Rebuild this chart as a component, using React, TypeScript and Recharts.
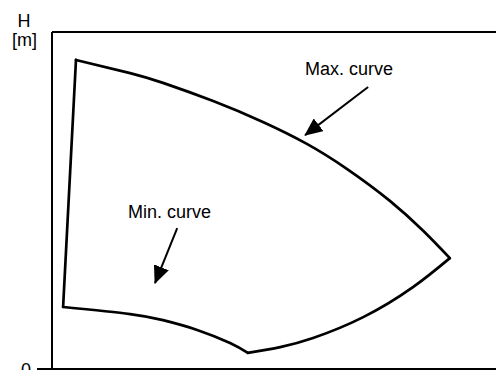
import { LineChart, Line, XAxis, YAxis } from 'recharts';

// outline of the operating field, in % of the axis range
const maxCurve = [
  { x: 5.4, y: 91.7 },
  { x: 17.6, y: 87.8 },
  { x: 25.0, y: 84.9 },
  { x: 36.3, y: 79.5 },
  { x: 47.5, y: 73.3 },
  { x: 57.4, y: 66.8 },
  { x: 66.4, y: 59.4 },
  { x: 76.1, y: 49.9 },
  { x: 83.6, y: 41.0 },
  { x: 89.6, y: 32.9 },
];

// right tip down to the lowest point
const minCurveRight = [
  { x: 89.6, y: 32.9 },
  { x: 81.3, y: 24.3 },
  { x: 70.1, y: 15.4 },
  { x: 58.8, y: 9.2 },
  { x: 51.4, y: 6.5 },
  { x: 44.1, y: 4.8 },
];

// lowest point back to the left corner
const minCurveLeft = [
  { x: 44.1, y: 4.8 },
  { x: 40.1, y: 7.7 },
  { x: 32.7, y: 11.6 },
  { x: 25.0, y: 14.5 },
  { x: 17.6, y: 16.3 },
  { x: 2.5, y: 18.4 },
];

// closing edge on the left
const leftEdge = [
  { x: 2.5, y: 18.4 },
  { x: 5.4, y: 91.7 },
];

const maxArrow = [
  { x: 71.2, y: 83.7 },
  { x: 57.0, y: 69.4 },
];

const minArrow = [
  { x: 28.2, y: 41.8 },
  { x: 23.2, y: 25.5 },
];

const yTicks = [0];

const outlineParts = [
  { key: 'left', data: leftEdge, type: 'linear' },
  { key: 'max', data: maxCurve, type: 'natural' },
  { key: 'minR', data: minCurveRight, type: 'natural' },
  { key: 'minL', data: minCurveLeft, type: 'natural' },
];

function ZeroTick(props: any) {
  const { x, y, payload } = props;
  return (
    <text x={x} y={y} dy={15} textAnchor="end" fontSize={18} fill="#000">
      {payload.value}
    </text>
  );
}

export default function App() {
  return (
    <div style={{ position: 'absolute', left: 0, top: 0 }}>
      <LineChart
        width={496}
        height={370}
        margin={{ top: 31, right: 0, bottom: 0, left: 0 }}
        style={{ fontFamily: '"Liberation Sans", Arial, sans-serif' }}
      >
        <defs>
          <marker
            id="arrowHead"
            markerUnits="userSpaceOnUse"
            markerWidth={18}
            markerHeight={16}
            refX={17}
            refY={8}
            orient="auto"
          >
            <path d="M0,0 L18,8 L0,16 z" fill="#000" />
          </marker>
        </defs>
        <XAxis
          type="number"
          dataKey="x"
          domain={[0, 100]}
          allowDataOverflow
          tick={false}
          tickLine={false}
          height={1}
          axisLine={{ stroke: '#000', strokeWidth: 2 }}
        />
        <XAxis
          xAxisId="top"
          orientation="top"
          type="number"
          domain={[0, 100]}
          tick={false}
          tickLine={false}
          height={1}
          axisLine={{ stroke: '#000', strokeWidth: 2 }}
        />
        <YAxis
          type="number"
          dataKey="y"
          domain={[0, 100]}
          allowDataOverflow
          ticks={yTicks}
          width={52}
          tickSize={15}
          tickMargin={6}
          axisLine={{ stroke: '#000', strokeWidth: 2 }}
          tickLine={{ stroke: '#000', strokeWidth: 2 }}
          tick={<ZeroTick />}
        />
        {outlineParts.map((p) => (
          <Line
            key={p.key}
            data={p.data}
            dataKey="y"
            type={p.type as any}
            stroke="#000"
            strokeWidth={2.7}
            strokeLinecap="round"
            dot={false}
            activeDot={false}
            isAnimationActive={false}
          />
        ))}
        <Line
          data={maxArrow}
          dataKey="y"
          type="linear"
          stroke="#000"
          strokeWidth={2}
          dot={false}
          activeDot={false}
          markerEnd="url(#arrowHead)"
          isAnimationActive={false}
        />
        <Line
          data={minArrow}
          dataKey="y"
          type="linear"
          stroke="#000"
          strokeWidth={2}
          dot={false}
          activeDot={false}
          markerEnd="url(#arrowHead)"
          isAnimationActive={false}
        />
        <text x={24} y={27} textAnchor="middle" fontSize={18} fill="#000">H</text>
        <text x={24.5} y={46} textAnchor="middle" fontSize={18} fill="#000">[m]</text>
        <text x={305} y={75} fontSize={18} fill="#000">Max. curve</text>
        <text x={128} y={218} fontSize={18} fill="#000">Min. curve</text>
      </LineChart>
    </div>
  );
}
